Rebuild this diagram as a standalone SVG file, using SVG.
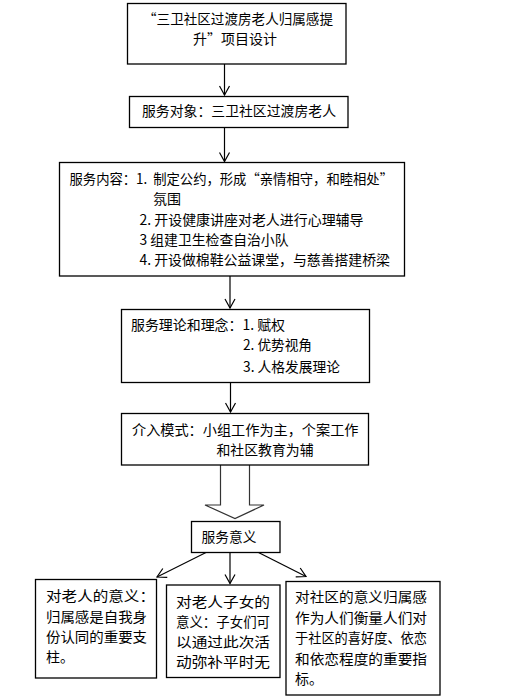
<svg xmlns="http://www.w3.org/2000/svg" width="523" height="700" viewBox="0 0 523 700">
<style>
.box{fill:#fff;stroke:#000;stroke-width:1.3}
.t{font-family:"Noto Sans CJK SC","Liberation Sans",sans-serif;font-size:14px;fill:#000}
.c{stroke:#000;stroke-width:1.2;fill:none}
</style>
<defs>
<marker id="v" markerWidth="12" markerHeight="12" viewBox="0 0 12 12" refX="10" refY="6" orient="auto" markerUnits="userSpaceOnUse">
<path d="M1,1 L10,6 L1,11" fill="none" stroke="#000" stroke-width="1.2"/>
</marker>
</defs>
<rect width="523" height="700" fill="#fff"/>
<g id="connectors">
<line class="c" x1="224.5" y1="64" x2="224.5" y2="95" marker-end="url(#v)"/>
<line class="c" x1="224.5" y1="127.5" x2="224.5" y2="161.5" marker-end="url(#v)"/>
<line class="c" x1="230" y1="276" x2="230" y2="308" marker-end="url(#v)"/>
<line class="c" x1="230.5" y1="382.5" x2="230.5" y2="412" marker-end="url(#v)"/>
<path d="M220.5,465 L220.5,505 L205,505 L235,518.5 L264,505 L249.5,505 L249.5,465" fill="#fff" stroke="#333" stroke-width="1.2"/>
<line class="c" x1="206" y1="552.5" x2="157" y2="577" marker-end="url(#v)"/>
<line class="c" x1="230" y1="552.5" x2="230" y2="583.5" marker-end="url(#v)"/>
<line class="c" x1="258.5" y1="552.5" x2="306" y2="576.5" marker-end="url(#v)"/>
</g>
<g id="n1">
<rect class="box" x="127.5" y="3.5" width="218.5" height="60.5"/>
<text class="t" x="143" y="24" textLength="190" lengthAdjust="spacingAndGlyphs">“三卫社区过渡房老人归属感提</text>
<text class="t" x="193" y="44">升”项目设计</text>
</g>
<g id="n2">
<rect class="box" x="129.5" y="96.5" width="218.5" height="31"/>
<text class="t" x="142" y="116" textLength="194" lengthAdjust="spacingAndGlyphs">服务对象：三卫社区过渡房老人</text>
</g>
<g id="n3">
<rect class="box" x="59.5" y="162.5" width="345" height="113.5"/>
<text class="t" x="69.5" y="183.5" textLength="323.5" lengthAdjust="spacingAndGlyphs" xml:space="preserve">服务内容：1.  制定公约，形成“亲情相守，和睦相处”</text>
<text class="t" x="153" y="203.5">氛围</text>
<text class="t" x="139.5" y="225" textLength="224" lengthAdjust="spacingAndGlyphs">2. 开设健康讲座对老人进行心理辅导</text>
<text class="t" x="139.5" y="245" textLength="149" lengthAdjust="spacingAndGlyphs">3 组建卫生检查自治小队</text>
<text class="t" x="139.5" y="265" textLength="250.5" lengthAdjust="spacingAndGlyphs">4. 开设做棉鞋公益课堂，与慈善搭建桥梁</text>
</g>
<g id="n4">
<rect class="box" x="121.5" y="309.5" width="248" height="73"/>
<text class="t" x="131" y="330" textLength="154" lengthAdjust="spacingAndGlyphs">服务理论和理念：1. 赋权</text>
<text class="t" x="243" y="350" textLength="69" lengthAdjust="spacingAndGlyphs">2. 优势视角</text>
<text class="t" x="243" y="371.5" textLength="97" lengthAdjust="spacingAndGlyphs">3. 人格发展理论</text>
</g>
<g id="n5">
<rect class="box" x="121.5" y="413.5" width="247" height="51.5"/>
<text class="t" x="132" y="434.5" textLength="226.5" lengthAdjust="spacingAndGlyphs">介入模式：小组工作为主，个案工作</text>
<text class="t" x="216.5" y="455" textLength="97" lengthAdjust="spacingAndGlyphs">和社区教育为辅</text>
</g>
<g id="n6">
<rect class="box" x="191.5" y="521.5" width="88.5" height="31"/>
<text class="t" x="201.5" y="541.5" textLength="55" lengthAdjust="spacingAndGlyphs">服务意义</text>
</g>
<g id="n7">
<rect class="box" x="35.5" y="579.5" width="121" height="98.5"/>
<text class="t" x="46" y="600.5" textLength="109" lengthAdjust="spacingAndGlyphs">对老人的意义：</text>
<text class="t" x="46" y="622" textLength="101" lengthAdjust="spacingAndGlyphs">归属感是自我身</text>
<text class="t" x="46" y="642" textLength="101" lengthAdjust="spacingAndGlyphs">份认同的重要支</text>
<text class="t" x="46" y="661.5">柱。</text>
</g>
<g id="n8">
<rect class="box" x="166.5" y="585" width="113.5" height="92.5"/>
<text class="t" x="176" y="607" textLength="94" lengthAdjust="spacingAndGlyphs">对老人子女的</text>
<text class="t" x="176" y="627" textLength="94" lengthAdjust="spacingAndGlyphs">意义：子女们可</text>
<text class="t" x="176" y="647" textLength="94" lengthAdjust="spacingAndGlyphs">以通过此次活</text>
<text class="t" x="176" y="667" textLength="94" lengthAdjust="spacingAndGlyphs">动弥补平时无</text>
</g>
<g id="n9">
<rect class="box" x="286" y="581.5" width="154" height="113.5"/>
<text class="t" x="295" y="602" textLength="132" lengthAdjust="spacingAndGlyphs">对社区的意义归属感</text>
<text class="t" x="295" y="622.5" textLength="132" lengthAdjust="spacingAndGlyphs">作为人们衡量人们对</text>
<text class="t" x="295" y="642.5" textLength="132" lengthAdjust="spacingAndGlyphs">于社区的喜好度、依恋</text>
<text class="t" x="295" y="663.5" textLength="132" lengthAdjust="spacingAndGlyphs">和依恋程度的重要指</text>
<text class="t" x="295" y="683.5">标。</text>
</g>
</svg>
